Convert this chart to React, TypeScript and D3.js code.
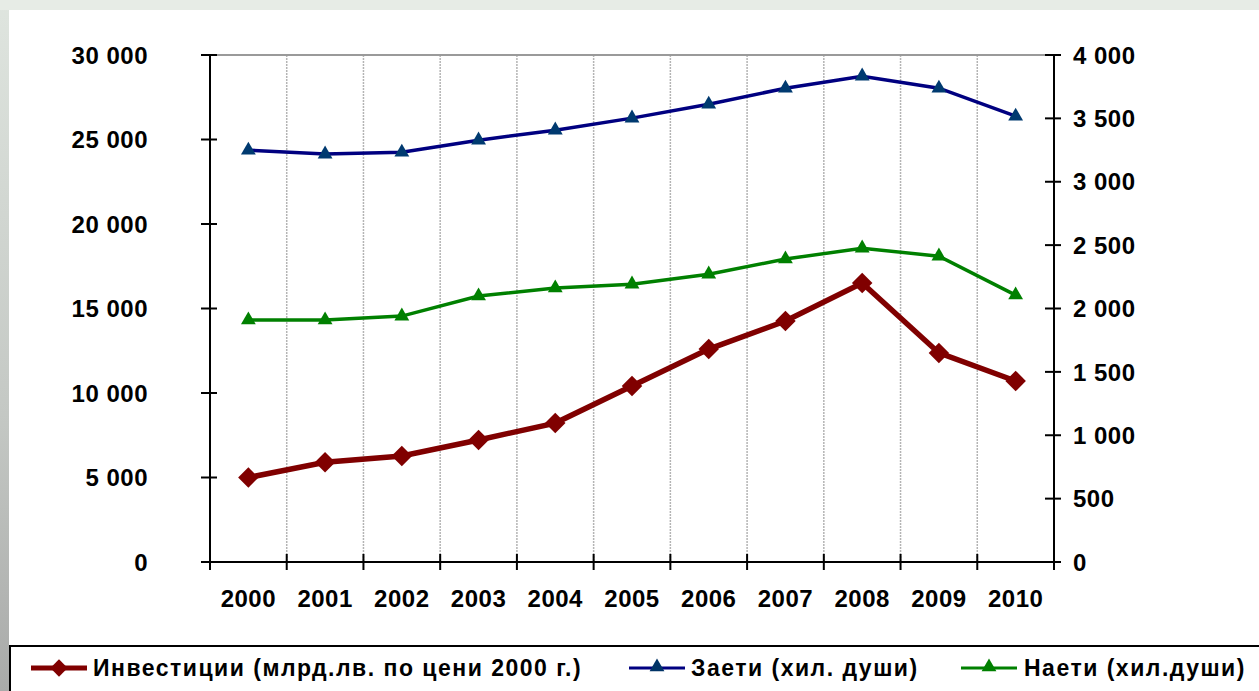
import * as d3 from 'd3'

const years = ['2000', '2001', '2002', '2003', '2004', '2005', '2006', '2007', '2008', '2009', '2010']
const investments = [5000, 5900, 6270, 7220, 8220, 10410, 12600, 14260, 16510, 12370, 10710]
const employed = [3249, 3218, 3233, 3328, 3407, 3502, 3612, 3738, 3833, 3738, 3517]
const hired = [1909, 1909, 1940, 2098, 2161, 2192, 2271, 2390, 2476, 2413, 2106]
const leftTicks = [0, 5000, 10000, 15000, 20000, 25000, 30000]
const rightTicks = [0, 500, 1000, 1500, 2000, 2500, 3000, 3500, 4000]
const legendLabels = ['Инвестиции (млрд.лв. по цени 2000 г.)', 'Заети (хил. души)', 'Наети (хил.души)']

const W = 1259
const H = 691
const plot = { left: 210, right: 1054, top: 55, bottom: 562 }

// numbers like "30 000"
const fmt = (v: number) => d3.format(',')(v).replace(/,/g, ' ')

export default function App() {
  const x = d3.scaleBand().domain(years).range([plot.left, plot.right])
  const yL = d3.scaleLinear().domain([0, 30000]).range([plot.bottom, plot.top])
  const yR = d3.scaleLinear().domain([0, 4000]).range([plot.bottom, plot.top])
  const cx = (d: string) => (x(d) as number) + x.bandwidth() / 2

  const lineL = d3.line<number>().x((_, i) => cx(years[i])).y(d => yL(d))
  const lineR = d3.line<number>().x((_, i) => cx(years[i])).y(d => yR(d))

  const diamond = d3.symbol().type(d3.symbolSquare).size(210)()
  const diamondSmall = d3.symbol().type(d3.symbolSquare).size(150)()
  const tri = d3.symbol().type(d3.symbolTriangle).size(95)()

  const boundaries = years.map(y => x(y) as number).concat([plot.right])
  const font = "'Liberation Sans', Arial, sans-serif"

  const legend = [
    { x: 31, text: legendLabels[0], color: '#800000', stroke: 5, marker: 'diamond', fill: '#800000', tx: 93 },
    { x: 629, text: legendLabels[1], color: '#000080', stroke: 3, marker: 'tri', fill: '#003366', tx: 691 },
    { x: 961, text: legendLabels[2], color: '#008000', stroke: 3, marker: 'tri', fill: '#008000', tx: 1024 },
  ]

  return (
    <svg width={W} height={H} style={{ position: 'absolute', left: 0, top: 0, display: 'block' }} fontFamily={font}>
      <defs>
        <linearGradient id="leftbg" x1="0" y1="0" x2="0" y2="1">
          <stop offset="0" stopColor="#dfe5df" />
          <stop offset="0.6" stopColor="#c4c8c4" />
          <stop offset="1" stopColor="#a9aaa9" />
        </linearGradient>
      </defs>
      <rect x={0} y={0} width={W} height={H} fill="url(#leftbg)" />
      <rect x={0} y={0} width={W} height={10} fill="#e7ece6" />
      <rect x={9} y={10} width={W - 9} height={H - 10} fill="#ffffff" />

      {/* vertical grid */}
      {boundaries.slice(1, -1).map((b, i) => (
        <line key={'g' + i} x1={b} x2={b} y1={plot.top} y2={plot.bottom} stroke="#b4b4b4" strokeWidth={1.5} strokeDasharray="2,1" />
      ))}
      <line x1={plot.left} x2={plot.right} y1={plot.top} y2={plot.top} stroke="#9a9a9a" strokeWidth={2} />

      {/* axes */}
      <line x1={plot.left} x2={plot.left} y1={plot.top} y2={plot.bottom + 8} stroke="#000" strokeWidth={2} />
      <line x1={plot.right} x2={plot.right} y1={plot.top} y2={plot.bottom + 8} stroke="#000" strokeWidth={2} />
      <line x1={plot.left - 9} x2={plot.right} y1={plot.bottom} y2={plot.bottom} stroke="#000" strokeWidth={2} />
      {boundaries.map((b, i) => (
        <line key={'xt' + i} x1={b} x2={b} y1={plot.bottom - 8} y2={plot.bottom + 8} stroke="#000" strokeWidth={2} />
      ))}
      {leftTicks.map(t => (
        <g key={'l' + t}>
          <line x1={plot.left - 9} x2={plot.left + 7} y1={yL(t)} y2={yL(t)} stroke="#000" strokeWidth={2} />
          <text x={148} y={yL(t)} dy="0.36em" textAnchor="end" fontSize={24} fontWeight="bold" letterSpacing={0.5}>{fmt(t)}</text>
        </g>
      ))}
      {rightTicks.map(t => (
        <g key={'r' + t}>
          <line x1={plot.right - 9} x2={plot.right + 7} y1={yR(t)} y2={yR(t)} stroke="#000" strokeWidth={2} />
          <text x={1073} y={yR(t)} dy="0.36em" textAnchor="start" fontSize={24} fontWeight="bold" letterSpacing={0.5}>{fmt(t)}</text>
        </g>
      ))}
      {years.map(y => (
        <text key={'yl' + y} x={cx(y)} y={607} textAnchor="middle" fontSize={24} fontWeight="bold" letterSpacing={0.5}>{y}</text>
      ))}

      {/* series */}
      <path d={lineR(employed) as string} fill="none" stroke="#000080" strokeWidth={3.5} />
      {employed.map((v, i) => (
        <path key={'e' + i} d={tri as string} transform={`translate(${cx(years[i])},${yR(v)})`} fill="#003a70" />
      ))}
      <path d={lineR(hired) as string} fill="none" stroke="#008000" strokeWidth={3.5} />
      {hired.map((v, i) => (
        <path key={'h' + i} d={tri as string} transform={`translate(${cx(years[i])},${yR(v)})`} fill="#008000" />
      ))}
      <path d={lineL(investments) as string} fill="none" stroke="#800000" strokeWidth={5.5} />
      {investments.map((v, i) => (
        <path key={'i' + i} d={diamond as string} transform={`translate(${cx(years[i])},${yL(v)}) rotate(45)`} fill="#800000" />
      ))}

      {/* legend */}
      <rect x={10} y={646} width={W + 10} height={60} fill="#fff" stroke="#000" strokeWidth={2} />
      {legend.map(l => (
        <g key={l.text}>
          <line x1={l.x} x2={l.x + 56} y1={668} y2={668} stroke={l.color} strokeWidth={l.stroke} />
          {l.marker === 'diamond'
            ? <path d={diamondSmall as string} transform={`translate(${l.x + 28},668) rotate(45)`} fill={l.fill} />
            : <path d={tri as string} transform={`translate(${l.x + 28},667)`} fill={l.fill} />}
          <text x={l.tx} y={668} dy="0.36em" fontSize={23} fontWeight="bold" letterSpacing={1.5}>{l.text}</text>
        </g>
      ))}
    </svg>
  )
}
